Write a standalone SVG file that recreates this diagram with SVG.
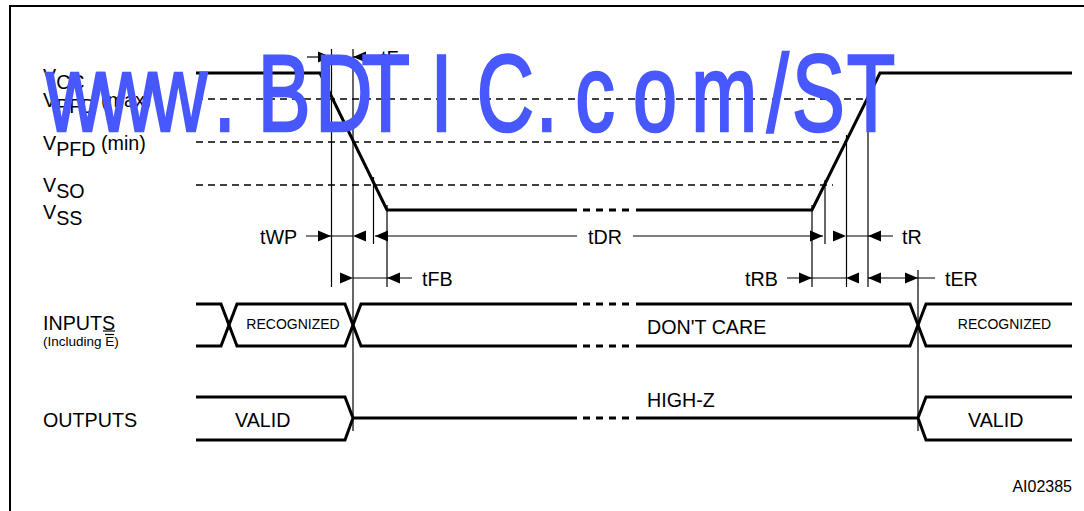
<svg xmlns="http://www.w3.org/2000/svg" xmlns:xlink="http://www.w3.org/1999/xlink" width="1084" height="511" viewBox="0 0 1084 511">
<style>
.thick{stroke:#000;stroke-width:3;fill:none;stroke-linejoin:miter}
.thin{stroke:#000;stroke-width:1.2;fill:none}
.dsh{stroke:#000;stroke-width:1.3;fill:none;stroke-dasharray:7 5}
.bdash{stroke:#000;stroke-width:3;fill:none;stroke-dasharray:7 6}
.lbl{font-family:"Liberation Sans",Arial,sans-serif;font-size:19.7px;fill:#000}
.sm{font-family:"Liberation Sans",Arial,sans-serif;font-size:14px;fill:#000}
.wm{font-family:"Liberation Sans",Arial,sans-serif;font-size:110px;fill:#4858ff;stroke:#4858ff;stroke-width:2.6}
</style>
<defs>
<path id="ar" d="M0,0 L-13,-5.5 L-13,5.5 Z" fill="#000"/>
<path id="al" d="M0,0 L13,-5.5 L13,5.5 Z" fill="#000"/>
</defs>
<rect width="1084" height="511" fill="#fff"/>
<g id="frame"><rect x="10" y="6" width="1100" height="600" fill="none" stroke="#000" stroke-width="2"/></g>

<g id="levels">
<line class="dsh" x1="196" y1="99" x2="866" y2="99"/>
<line class="dsh" x1="196" y1="142" x2="846" y2="142"/>
<line class="dsh" x1="196" y1="185" x2="833" y2="185"/>
<text class="lbl" x="43" y="83">V<tspan dy="6">CC</tspan></text>
<text class="lbl" x="43" y="107">V<tspan dy="6">PFD</tspan><tspan dy="-6"> (max)</tspan></text>
<text class="lbl" x="43" y="150">V<tspan dy="6">PFD</tspan><tspan dy="-6"> (min)</tspan></text>
<text class="lbl" x="43" y="192">V<tspan dy="6">SO</tspan></text>
<text class="lbl" x="43" y="219">V<tspan dy="6">SS</tspan></text>
</g>

<g id="vcc-wave">
<polyline class="thick" points="196,73 320,73 387,210 577,210"/>
<line class="bdash" x1="583" y1="210" x2="632" y2="210"/>
<polyline class="thick" points="636,210 812,210 880,73 1072,73"/>
</g>

<g id="inputs">
<text class="lbl" x="43" y="330">INPUTS</text>
<line class="thin" x1="103" y1="331" x2="115" y2="331"/>
<text x="43" y="346" font-family="Liberation Sans, Arial, sans-serif" font-size="13.5">(Including E)</text>
<line class="thin" x1="105" y1="334.5" x2="114" y2="334.5"/>
<polyline class="thick" points="196,304 221,304 237,346 345,346 361,304 577,304"/>
<polyline class="thick" points="196,346 221,346 237,304 345,304 361,346 577,346"/>
<line class="bdash" x1="583" y1="304" x2="632" y2="304"/>
<line class="bdash" x1="583" y1="346" x2="632" y2="346"/>
<polyline class="thick" points="636,304 910,304 926,346 1072,346"/>
<polyline class="thick" points="636,346 910,346 926,304 1072,304"/>
<text class="sm" x="293" y="329" text-anchor="middle">RECOGNIZED</text>
<text class="lbl" x="647" y="334">DON'T CARE</text>
<text class="sm" x="1004.5" y="329" text-anchor="middle">RECOGNIZED</text>
</g>

<g id="outputs">
<text class="lbl" x="43" y="427">OUTPUTS</text>
<polyline class="thick" points="196,397 345,397 353,418 345,440 196,440"/>
<line class="thick" x1="353" y1="418" x2="577" y2="418"/>
<line class="bdash" x1="583" y1="418" x2="632" y2="418"/>
<line class="thick" x1="636" y1="418" x2="918" y2="418"/>
<polyline class="thick" points="1072,397 926,397 918,418 926,440 1072,440"/>
<text class="lbl" x="235" y="427">VALID</text>
<text class="lbl" x="647" y="407">HIGH-Z</text>
<text class="lbl" x="968" y="427">VALID</text>
</g>

<g id="connectors">
<line class="thin" x1="331.5" y1="49" x2="331.5" y2="287"/>
<line class="thin" x1="353" y1="49" x2="353" y2="431"/>
<line class="thin" x1="373.5" y1="177" x2="373.5" y2="244"/>
<line class="thin" x1="387" y1="205" x2="387" y2="287"/>
<line class="thin" x1="812" y1="205" x2="812" y2="287"/>
<line class="thin" x1="825" y1="180" x2="825" y2="244"/>
<line class="thin" x1="846.5" y1="135" x2="846.5" y2="287"/>
<line class="thin" x1="868" y1="90" x2="868" y2="287"/>
<line class="thin" x1="918" y1="270" x2="918" y2="431"/>
<!-- tF -->
<line class="thin" x1="307" y1="57" x2="331" y2="57"/>
<use xlink:href="#ar" x="331" y="57"/>
<use xlink:href="#al" x="353" y="57"/>
<line class="thin" x1="353" y1="57" x2="377" y2="57"/>
<text class="lbl" x="381" y="65">tF</text>
<!-- tWP / tDR / tR -->
<text class="lbl" x="260" y="244">tWP</text>
<line class="thin" x1="306" y1="236" x2="353" y2="236"/>
<use xlink:href="#ar" x="331" y="236"/>
<use xlink:href="#al" x="353" y="236"/>
<use xlink:href="#al" x="375" y="236"/>
<line class="thin" x1="375" y1="236" x2="577" y2="236"/>
<text class="lbl" x="588" y="244">tDR</text>
<line class="thin" x1="633" y1="236" x2="823" y2="236"/>
<use xlink:href="#ar" x="823" y="236"/>
<use xlink:href="#ar" x="846" y="236"/>
<line class="thin" x1="846" y1="236" x2="893" y2="236"/>
<use xlink:href="#al" x="868" y="236"/>
<text class="lbl" x="902" y="244">tR</text>
<!-- tFB / tRB / tER -->
<use xlink:href="#ar" x="353" y="278"/>
<line class="thin" x1="353" y1="278" x2="412" y2="278"/>
<use xlink:href="#al" x="387" y="278"/>
<text class="lbl" x="422" y="286">tFB</text>
<text class="lbl" x="745" y="286">tRB</text>
<line class="thin" x1="787" y1="278" x2="846" y2="278"/>
<use xlink:href="#ar" x="812" y="278"/>
<use xlink:href="#al" x="846" y="278"/>
<line class="thin" x1="868" y1="278" x2="935" y2="278"/>
<use xlink:href="#al" x="868" y="278"/>
<use xlink:href="#ar" x="918" y="278"/>
<text class="lbl" x="945" y="286">tER</text>
</g>

<text id="ref" x="1072" y="492" text-anchor="end" font-family="Liberation Sans, Arial, sans-serif" font-size="16">AI02385</text>

<g id="watermark">
<text class="wm" transform="translate(0,131) scale(0.72,1)" x="64 136 208 297 358 438 502 598 662 744 799 879 960 1065 1100 1176" y="0">www.BDTIC.com/ST</text>
</g>
</svg>
